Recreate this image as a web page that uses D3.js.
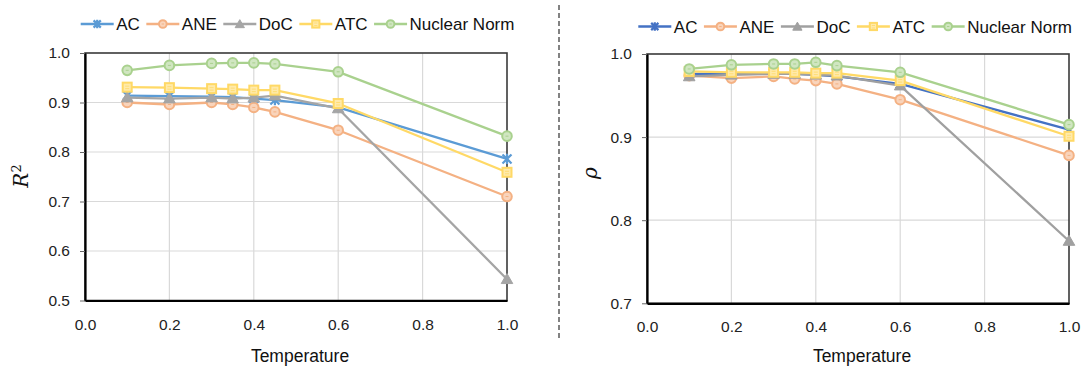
<!DOCTYPE html>
<html>
<head>
<meta charset="utf-8">
<script src="https://cdn.jsdelivr.net/npm/d3@7"></script>
<style>
  body { margin: 0; background: #fff; }
  svg { display: block; font-family: "Liberation Sans", Arial, sans-serif; }
</style>
</head>
<body>
<div id="chart"></div>
<script>
// data
const temps = [0.1, 0.2, 0.3, 0.35, 0.4, 0.45, 0.6, 1.0];
const seriesNames = ["AC", "ANE", "DoC", "ATC", "Nuclear Norm"];
const xTicks = [0.0, 0.2, 0.4, 0.6, 0.8, 1.0];

// R^2 panel
const r2AC  = [0.914, 0.913, 0.912, 0.911, 0.908, 0.905, 0.890, 0.786];
const r2ANE = [0.900, 0.896, 0.900, 0.896, 0.890, 0.881, 0.844, 0.710];
const r2DoC = [0.910, 0.908, 0.910, 0.908, 0.910, 0.914, 0.888, 0.543];
const r2ATC = [0.931, 0.930, 0.928, 0.927, 0.925, 0.925, 0.898, 0.759];
const r2NN  = [0.965, 0.975, 0.979, 0.980, 0.980, 0.978, 0.962, 0.832];
const r2Ticks = [0.5, 0.6, 0.7, 0.8, 0.9, 1.0];

// rho panel
const rhoAC  = [0.976, 0.976, 0.977, 0.976, 0.975, 0.973, 0.964, 0.909];
const rhoANE = [0.974, 0.971, 0.973, 0.970, 0.968, 0.964, 0.945, 0.878];
const rhoDoC = [0.973, 0.975, 0.976, 0.976, 0.975, 0.974, 0.962, 0.775];
const rhoATC = [0.979, 0.978, 0.978, 0.978, 0.977, 0.977, 0.968, 0.901];
const rhoNN  = [0.982, 0.987, 0.988, 0.988, 0.990, 0.986, 0.978, 0.915];
const rhoTicks = [0.7, 0.8, 0.9, 1.0];

const leftColors  = ["#5B9BD5", "#F4B183", "#A5A5A5", "#FFD966", "#A9D18E"];
const rightColors = ["#4472C4", "#F4B183", "#A0A0A0", "#FFD966", "#A9D18E"];
const markers = ["asterisk", "circle", "triangle", "square", "circle"];

const W = 1081, H = 366;
const svg = d3.select('#chart').append('svg')
    .attr('width', W)
    .attr('height', H);

// dashed separator between the two panels
svg.append('line')
    .attr('x1', 559).attr('x2', 559)
    .attr('y1', 5).attr('y2', 338)
    .style('stroke', '#595959')
    .style('stroke-width', 1.5)
    .style('stroke-dasharray', '5,3');

function drawMarker(g, kind, color, big) {
    let k = big ? 1 : 0.8;
    let tint = d3.interpolateRgb(color, '#fff')(0.45);
    if (kind == 'asterisk') {
        // x shape with a vertical bar
        let a = 4.5 * k;
        g.append('path')
            .attr('d', `M${-a},${-a}L${a},${a}M${-a},${a}L${a},${-a}M0,${-a * 1.15}L0,${a * 1.15}`)
            .style('stroke', color).style('stroke-width', 2.2).style('fill', 'none');
    } else if (kind == 'circle') {
        g.append('circle').attr('r', 4.8 * k)
            .style('fill', tint).style('stroke', color).style('stroke-width', 2);
        g.append('line').attr('x1', -1.5 * k).attr('x2', 1.5 * k)
            .style('stroke', color).style('stroke-width', 1);
    } else if (kind == 'triangle') {
        g.append('path')
            .attr('d', d3.symbol(d3.symbolTriangle, 58 * k * k)())
            .attr('transform', 'translate(0,1)')
            .style('fill', color).style('stroke', color).style('stroke-width', 1);
    } else if (kind == 'square') {
        let s = 9 * k;
        g.append('rect').attr('x', -s / 2).attr('y', -s / 2).attr('width', s).attr('height', s)
            .style('fill', tint).style('stroke', color).style('stroke-width', 2);
        g.append('line').attr('x1', -2 * k).attr('x2', 2 * k).attr('y1', -1).attr('y2', -1)
            .style('stroke', color).style('stroke-width', 0.8);
        g.append('line').attr('x1', -2 * k).attr('x2', 2 * k).attr('y1', 1.5).attr('y2', 1.5)
            .style('stroke', color).style('stroke-width', 0.8);
    }
}

function panel(opts) {
    let x = d3.scaleLinear().domain([0, 1]).range([opts.x0, opts.x1]);
    let y = d3.scaleLinear().domain([opts.yTicks[0], 1]).range([opts.y0, opts.y1]);
    let g = svg.append('g');

    // grid
    g.selectAll('line.gx').data(xTicks.slice(1, -1)).enter().append('line')
        .attr('x1', d => x(d)).attr('x2', d => x(d))
        .attr('y1', y.range()[0]).attr('y2', y.range()[1])
        .style('stroke', '#d9d9d9').style('stroke-width', 1.2);
    g.selectAll('line.gy').data(opts.yTicks.slice(1, -1)).enter().append('line')
        .attr('x1', x(0)).attr('x2', x(1))
        .attr('y1', d => y(d)).attr('y2', d => y(d))
        .style('stroke', '#d9d9d9').style('stroke-width', 1.2);

    // frame top/right
    g.append('rect')
        .attr('x', x(0)).attr('y', y(1))
        .attr('width', x(1) - x(0)).attr('height', y.range()[0] - y(1))
        .style('fill', 'none').style('stroke', '#3a3a3a').style('stroke-width', 1.6);

    // axes
    let ax = g.append('g').attr('transform', 'translate(0,' + y.range()[0] + ')')
        .call(d3.axisBottom(x).tickValues(xTicks).tickFormat(d3.format('.1f')).tickSize(0).tickPadding(18));
    let ay = g.append('g').attr('transform', 'translate(' + x(0) + ',0)')
        .call(d3.axisLeft(y).tickValues(opts.yTicks).tickFormat(d3.format('.1f')).tickSize(5).tickSizeOuter(0).tickPadding(10));
    [ax, ay].forEach(a => {
        a.select('.domain').style('stroke', '#000').style('stroke-width', 2.2);
        a.selectAll('text').style('font-size', '15.5px').style('fill', '#222')
            .style('font-family', '"Liberation Sans", Arial, sans-serif');
        a.selectAll('.tick line').style('stroke', '#666');
    });

    // series lines
    let line = d3.line().x((d, i) => x(temps[i])).y(d => y(d));
    opts.series.forEach((vals, s) => {
        g.append('path').datum(vals)
            .attr('d', line)
            .style('fill', 'none')
            .style('stroke', opts.colors[s])
            .style('stroke-width', 2.3)
            .style('stroke-linejoin', 'round');
        vals.forEach((v, i) => {
            let m = g.append('g').attr('transform', 'translate(' + x(temps[i]) + ',' + y(v) + ')');
            drawMarker(m, markers[s], opts.colors[s], true);
        });
    });

    // x title
    g.append('text')
        .attr('x', (x(0) + x(1)) / 2 + 4).attr('y', 362)
        .attr('text-anchor', 'middle')
        .style('font-size', '17.5px').style('fill', '#111')
        .text('Temperature');

    // y title
    let yt = g.append('text')
        .attr('transform', 'translate(' + opts.titleX + ',' + opts.titleY + ') rotate(-90)')
        .attr('text-anchor', 'middle')
        .style('font-family', '"DejaVu Serif", "Liberation Serif", serif')
        .style('font-size', '20px').style('fill', '#111');
    opts.title(yt);

    // legend
    let lx = opts.legendX;
    seriesNames.forEach((name, s) => {
        let lg = svg.append('g').attr('transform', 'translate(' + lx + ',' + opts.legendY + ')');
        lg.append('line').attr('x1', 0).attr('x2', 33)
            .style('stroke', opts.colors[s]).style('stroke-width', 2.3);
        let m = lg.append('g').attr('transform', 'translate(16.5,0)');
        drawMarker(m, markers[s], opts.colors[s], false);
        let t = lg.append('text').attr('x', 35.5).attr('y', 6)
            .style('font-size', '17px').style('fill', '#111')
            .text(name);
        lx += 35.5 + t.node().getComputedTextLength() + 6.5;
    });
}

panel({
    x0: 85, x1: 507, y0: 300.5, y1: 53,
    yTicks: r2Ticks,
    series: [r2AC, r2ANE, r2DoC, r2ATC, r2NN],
    colors: leftColors,
    legendX: 80.7, legendY: 24,
    titleX: 28, titleY: 176,
    title: t => {
        t.append('tspan').style('font-style', 'italic').text('R');
        t.append('tspan').attr('dy', -7).style('font-size', '13px').text('2');
    }
});

panel({
    x0: 647, x1: 1069, y0: 303.3, y1: 54,
    yTicks: rhoTicks,
    series: [rhoAC, rhoANE, rhoDoC, rhoATC, rhoNN],
    colors: rightColors,
    legendX: 638.3, legendY: 26.5,
    titleX: 597, titleY: 173,
    title: t => {
        t.append('tspan').style('font-style', 'italic').text('ρ');
    }
});
</script>
</body>
</html>
